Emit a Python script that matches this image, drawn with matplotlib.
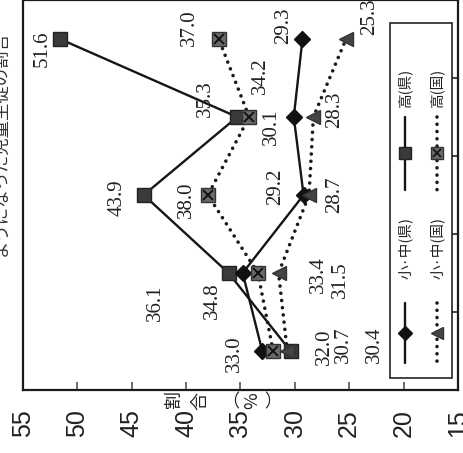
import matplotlib
matplotlib.use("Agg")
import matplotlib.pyplot as plt
from matplotlib.patches import Rectangle

# ---- data -------------------------------------------------------------
periods = [1, 2, 3, 4, 5]
sj_ken = [33.0, 34.8, 29.2, 30.1, 29.3]     # 小·中(県)
ko_ken = [30.4, 36.1, 43.9, 35.3, 51.6]     # 高(県)
sj_koku = [30.7, 31.5, 28.7, 28.3, 25.3]    # 小·中(国)
ko_koku = [32.0, 33.4, 38.0, 34.2, 37.0]    # 高(国)
value_ticks = [55, 50, 45, 40, 35, 30, 25, 20, 15]
series_names = ["小·中(県)", "高(県)", "小·中(国)", "高(国)"]
title_text = "ようになった児童生徒の割合"

# ---- label placement (value, period) ----------------------------------
pos_sj_ken = [(35.6, 0.97), (37.6, 1.64), (31.8, 3.10), (32.2, 3.87), (31.0, 5.17)]
pos_ko_ken = [(22.7, 1.08), (42.8, 1.62), (46.3, 2.97), (38.2, 4.23), (53.2, 4.87)]
pos_sj_koku = [(25.5, 1.08), (25.8, 1.91), (26.3, 3.00), (26.3, 4.09), (23.1, 5.29)]
pos_ko_koku = [(27.3, 1.06), (27.8, 1.98), (40.0, 2.94), (33.2, 4.53), (39.7, 5.15)]

SERIF = "Liberation Serif"
SANS = "Liberation Sans"
CJK = ["Noto Sans CJK JP", "DejaVu Sans"]

W, H = 463, 453
fig = plt.figure(figsize=(W / 100, H / 100), dpi=100)
fig.patch.set_facecolor("white")

L, R, B, T = 23, 458, 390, 0
ax = fig.add_axes([L / W, (H - B) / H, (R - L) / W, (B - T) / H])
ax.set_xlim(55, 15)
ax.set_ylim(0.5, 5.5)

def ax_px(px, py):
    return (px - L) / (R - L), (B - py) / (B - T)

solid = dict(color="#151515", lw=1.7, solid_capstyle="round")
dotted = dict(color="#1a1a1a", lw=2.6, linestyle=(0, (0.01, 2.0)),
              dash_capstyle="round")

sty_sj_ken = dict(marker="D", ms=8.5, mfc="#111111", mec="#111111")
sty_ko_ken = dict(marker="s", ms=9.5, mfc="#3a3a3a", mec="#222222")
sty_sj_koku = dict(marker="<", ms=10, mfc="#444444", mec="#333333")
sty_ko_koku = dict(marker="s", ms=9.5, mfc="#6a6a6a", mec="#333333")

ax.plot(ko_ken, periods, **solid, zorder=3)
ax.plot(ko_ken, periods, lw=0, **sty_ko_ken, zorder=4)
ax.plot(sj_ken, periods, **solid, zorder=3)
ax.plot(sj_ken, periods, lw=0, **sty_sj_ken, zorder=4)
ax.plot(ko_koku, periods, **dotted, zorder=3)
ax.plot(ko_koku, periods, lw=0, **sty_ko_koku, zorder=4)
ax.plot(ko_koku, periods, lw=0, marker="x", ms=7, mew=1.4, color="#111111", zorder=5)
ax.plot(sj_koku, periods, **dotted, zorder=3)
ax.plot(sj_koku, periods, lw=0, **sty_sj_koku, zorder=4)

for vals, places in [(sj_ken, pos_sj_ken), (ko_ken, pos_ko_ken),
                     (sj_koku, pos_sj_koku), (ko_koku, pos_ko_koku)]:
    for v, (tx, ty) in zip(vals, places):
        ax.text(tx, ty, f"{v:.1f}", rotation=90, ha="center", va="center",
                fontsize=15, family=SERIF, color="#222222", zorder=6)

# ---- axes styling -----------------------------------------------------
for s in ax.spines.values():
    s.set_linewidth(1.6)
    s.set_color("#1a1a1a")

ax.set_xticks(value_ticks)
ax.set_xticklabels([str(t) for t in value_ticks], rotation=90,
                   fontsize=18, family=SANS, color="#222222")
ax.tick_params(axis="x", direction="in", length=6, width=1.2, pad=14,
               color="#555555")
ax.yaxis.set_ticks_position("right")
ax.set_yticks([1.5, 2.5, 3.5, 4.5])
ax.set_yticklabels([])
ax.tick_params(axis="y", direction="in", length=7, width=1.3, color="#333333")

# axis title, stacked vertically
for ch, px, py in [("割", 174, 399), ("合", 200, 401), ("︵", 233, 399),
                   ("%", 252, 401), ("︶", 276, 399)]:
    fig.text(px / W, 1 - py / H, ch, rotation=90, ha="center", va="center",
             fontsize=13, family=CJK, color="#222222")

# chart title along the left edge
fig.text(1 / W, 1 - 143 / H, title_text, rotation=90, ha="center",
         va="center", fontsize=12.5, family=CJK, color="#333333")

# ---- legend -----------------------------------------------------------
x0, y0 = ax_px(390, 378)
x1, y1 = ax_px(452, 23)
ax.add_patch(Rectangle((x0, y0), x1 - x0, y1 - y0, transform=ax.transAxes,
                       facecolor="white", edgecolor="#222222", lw=1.2,
                       zorder=7, clip_on=False))

entries = [
    (series_names[0], 405, (303, 363), 333, 248, solid, [sty_sj_ken]),
    (series_names[1], 405, (117, 190), 153, 88, solid, [sty_ko_ken]),
    (series_names[2], 437, (303, 363), 333, 248, dotted, [sty_sj_koku]),
    (series_names[3], 437, (117, 190), 153, 88, dotted,
     [sty_ko_koku, dict(marker="x", ms=6, mew=1.2, color="#111111")]),
]
for name, cx, (ya, yb), my, ty, lstyle, msty in entries:
    xa, pa = ax_px(cx, ya)
    _, pb = ax_px(cx, yb)
    ax.plot([xa, xa], [pa, pb], transform=ax.transAxes, zorder=8,
            clip_on=False, **lstyle)
    _, pm = ax_px(cx, my)
    for st in msty:
        kw = dict(st)
        if kw.get("marker") == "<":
            kw["ms"] = 8
        elif kw.get("marker") in ("s", "D"):
            kw["ms"] = kw["ms"] - 1.5
        ax.plot([xa], [pm], lw=0, transform=ax.transAxes, zorder=9,
                clip_on=False, **kw)
    _, pt = ax_px(cx, ty)
    ax.text(xa, pt, name, rotation=90, ha="center", va="center",
            transform=ax.transAxes, fontsize=10.5, family=CJK,
            color="#222222", zorder=9)

fig.savefig("out.png", dpi=100, facecolor="white")
